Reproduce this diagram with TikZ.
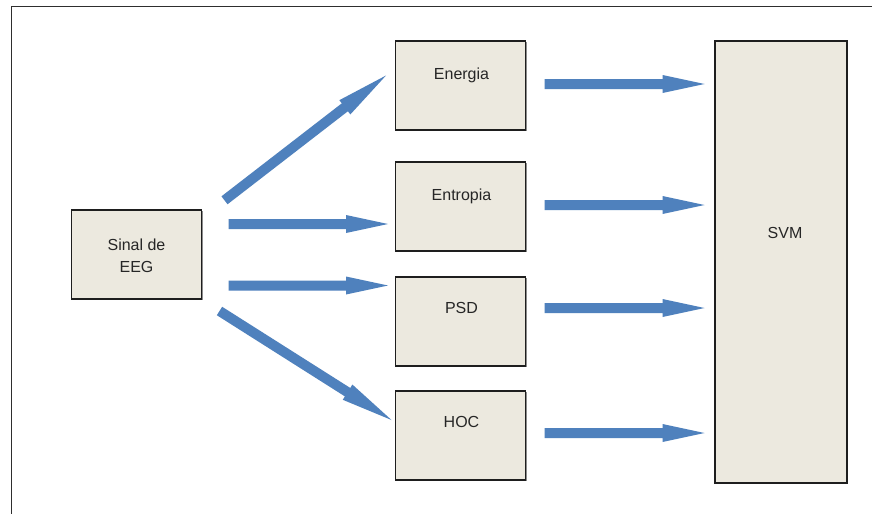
\documentclass[tikz,border=0pt]{standalone}
\usepackage{fontspec}
\setmainfont{Liberation Sans}
\usetikzlibrary{calc,shadows}
\definecolor{boxfill}{HTML}{ECE9DF}
\definecolor{boxline}{HTML}{1E1E1E}
\definecolor{arrowblue}{HTML}{4F81BD}
\definecolor{framegray}{HTML}{2E2E2E}
% block arrow from #1 to #2 with head length #3 (shaft 10pt, head 18pt wide)
\newcommand\blockarrow[3]{%
  \coordinate (hb) at ($(#2)!#3!(#1)$);
  \fill[arrowblue] ($(#1)!5pt!90:(#2)$) -- ($(hb)!5pt!-90:(#1)$)
    -- ($(hb)!9pt!-90:(#1)$) -- (#2) -- ($(hb)!9pt!90:(#1)$)
    -- ($(hb)!5pt!90:(#1)$) -- ($(#1)!5pt!-90:(#2)$) -- cycle;}
\begin{document}
\begin{tikzpicture}[x=1pt,y=-1pt,
  block/.style={draw=boxline, line width=1.3pt, fill=boxfill, inner sep=0pt,
    drop shadow={shadow xshift=1.2pt, shadow yshift=-1.2pt, fill=black!45, opacity=1}},
  lbl/.style={font=\fontsize{16}{21.5}\selectfont, text=black!85, inner sep=0pt, anchor=base, align=center}]
  \useasboundingbox (0,0) rectangle (872,514);
  \fill[white] (0,0) rectangle (872,514);

  % outer frame (top and left edges)
  \draw[framegray, line width=1.5pt] (872,6.5) -- (11.5,6.5) -- (11.5,514);

  % blocks
  \node[block, minimum width=130pt, minimum height=89pt] (eeg) at (136.5,254.5) {};
  \node[block, minimum width=130pt, minimum height=89pt] (ener) at (460.5,85.5) {};
  \node[block, minimum width=130pt, minimum height=89pt] (entr) at (460.5,206.5) {};
  \node[block, minimum width=130pt, minimum height=89pt] (psd) at (460.5,321.5) {};
  \node[block, minimum width=130pt, minimum height=89pt] (hoc) at (460.5,435.5) {};
  \node[block, minimum width=132pt, minimum height=442pt] (svm) at (781,262) {};

  % block labels
  \node[lbl] (eegT) at (136.5,272) {Sinal de\\EEG};
  \node[lbl] (enerT) at (461.5,79.3) {Energia};
  \node[lbl] (entrT) at (461.5,200.8) {Entropia};
  \node[lbl] (psdT) at (461.5,313) {PSD};
  \node[lbl] (hocT) at (461.5,427) {HOC};
  \node[lbl] (svmT) at (785,238) {SVM};

  % arrow end points
  \coordinate (a1s) at (224.5,200.3);
  \coordinate (a1e) at (386,75.5);
  \coordinate (a2s) at (228.5,224);
  \coordinate (a2e) at (388,224);
  \coordinate (a3s) at (228.5,285.5);
  \coordinate (a3e) at (388,285.5);
  \coordinate (a4s) at (219.5,311);
  \coordinate (a4e) at (391.5,420);

  \coordinate (b1s) at (544.5,84);
  \coordinate (b1e) at (704.5,84);
  \coordinate (b2s) at (544.5,205);
  \coordinate (b2e) at (704.5,205);
  \coordinate (b3s) at (544.5,308);
  \coordinate (b3e) at (704.5,308);
  \coordinate (b4s) at (544.5,433);
  \coordinate (b4e) at (704.5,433);

  % signal to features
  \blockarrow{a1s}{a1e}{52pt}
  \blockarrow{a2s}{a2e}{42pt}
  \blockarrow{a3s}{a3e}{42pt}
  \blockarrow{a4s}{a4e}{52pt}

  % features to classifier
  \blockarrow{b1s}{b1e}{42pt}
  \blockarrow{b2s}{b2e}{42pt}
  \blockarrow{b3s}{b3e}{42pt}
  \blockarrow{b4s}{b4e}{42pt}
\end{tikzpicture}
\end{document}
